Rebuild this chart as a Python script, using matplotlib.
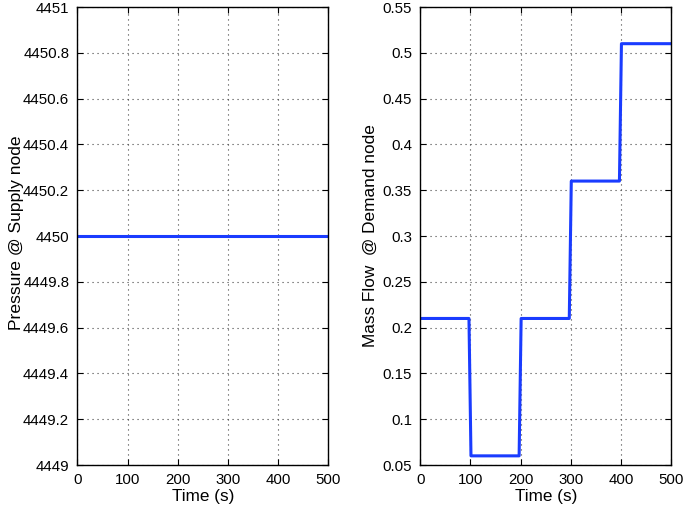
import matplotlib
matplotlib.use("Agg")
import matplotlib.pyplot as plt
from matplotlib.ticker import FuncFormatter, MultipleLocator

plt.rcParams['font.family'] = ['Liberation Sans', 'DejaVu Sans']

# Data
time_p = [0, 500]
pressure = [4450, 4450]

time_m = [0, 97, 101, 197, 201, 297, 301, 397, 401, 500]
mass_flow = [0.21, 0.21, 0.06, 0.06, 0.21, 0.21, 0.36, 0.36, 0.51, 0.51]

xticks = [0, 100, 200, 300, 400, 500]

color = '#1a3cff'
fig = plt.figure(figsize=(6.85, 5.14), dpi=100)
ax1 = fig.add_axes([0.1131, 0.0953, 0.3661, 0.891])
ax2 = fig.add_axes([0.6136, 0.0953, 0.3661, 0.891])

fmt = FuncFormatter(lambda v, p: ('%g' % round(v, 6)))

def style(ax):
    ax.set_xlim(0, 500)
    ax.set_xticks(xticks)
    ax.grid(True, linestyle=(0, (1, 3.5)), color='#444444', linewidth=0.8)
    ax.tick_params(direction='in', top=True, right=True, labelsize=10.8, length=4, width=0.8, pad=6)
    for s in ax.spines.values():
        s.set_linewidth(1.0)
    ax.yaxis.set_major_formatter(fmt)
    ax.set_xlabel('Time (s)', fontsize=12.3, labelpad=1)

ax1.plot(time_p, pressure, color=color, linewidth=2.2)
ax1.set_ylim(4449, 4451)
ax1.yaxis.set_major_locator(MultipleLocator(0.2))
style(ax1)
ax1.set_ylabel('Pressure @ Supply node', fontsize=12.6)
ax1.yaxis.set_label_coords(-0.215, 0.508)

ax2.plot(time_m, mass_flow, color=color, linewidth=2.2)
ax2.set_ylim(0.05, 0.55)
ax2.yaxis.set_major_locator(MultipleLocator(0.05))
style(ax2)
ax2.set_ylabel('Mass Flow  @ Demand node', fontsize=12.4)
ax2.yaxis.set_label_coords(-0.168, 0.5)

fig.savefig('out.png', dpi=100)
